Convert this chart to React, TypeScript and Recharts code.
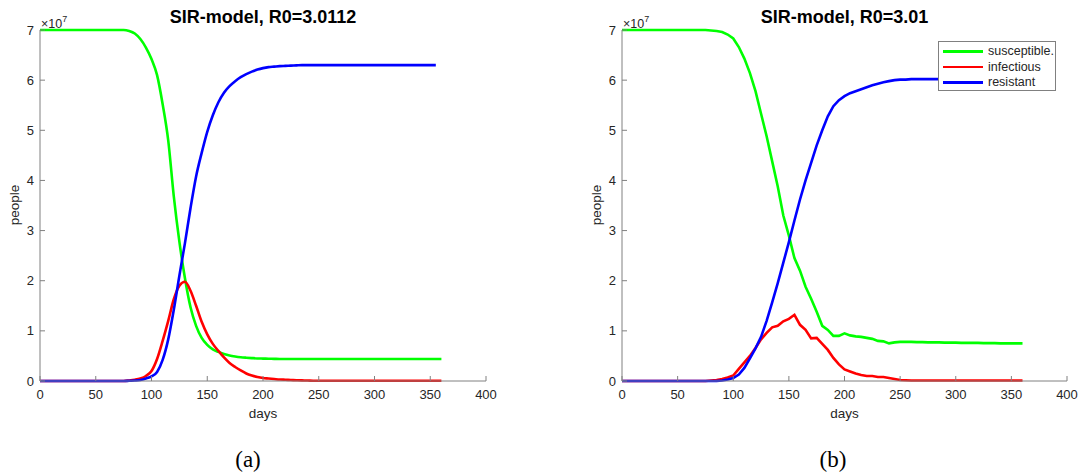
import React from "react";
import { LineChart, Line, XAxis, YAxis } from "recharts";

// values in units of 10^7 people, one point every 5 days
const days = [
  0, 5, 10, 15, 20, 25, 30, 35, 40, 45, 50, 55, 60, 65, 70, 75, 80, 85, 90, 95,
  100, 105, 110, 115, 120, 125, 130, 135, 140, 145, 150, 155, 160, 165, 170, 175,
  180, 185, 190, 195, 200, 205, 210, 215, 220, 225, 230, 235, 240, 245, 250, 255,
  260, 265, 270, 275, 280, 285, 290, 295, 300, 305, 310, 315, 320, 325, 330, 335,
  340, 345, 350, 355, 360,
];

const susA = [
  7, 7, 7, 7, 7, 7, 7, 7, 7, 7, 7, 7, 7, 7, 7, 7,
  6.98, 6.93, 6.82, 6.65, 6.42, 6.1, 5.52, 4.8, 3.68, 2.78, 2.05, 1.47, 1.1, 0.86,
  0.72, 0.63, 0.58, 0.54, 0.51, 0.49, 0.475, 0.465, 0.457, 0.45, 0.447, 0.444, 0.442,
  0.44, 0.44, 0.44, 0.44, 0.44, 0.44, 0.44, 0.44, 0.44, 0.44, 0.44, 0.44, 0.44,
  0.44, 0.44, 0.44, 0.44, 0.44, 0.44, 0.44, 0.44, 0.44, 0.44, 0.44, 0.44, 0.44,
  0.44, 0.44, 0.44, 0.44,
];

const infA = [
  0, 0, 0, 0, 0, 0, 0, 0, 0, 0, 0, 0, 0, 0, 0, 0,
  0.01, 0.025, 0.05, 0.1, 0.2, 0.44, 0.8, 1.2, 1.63, 1.9, 1.98, 1.8, 1.5, 1.18,
  0.93, 0.74, 0.6, 0.47, 0.36, 0.28, 0.21, 0.15, 0.11, 0.08, 0.06, 0.05, 0.04, 0.03,
  0.025, 0.02, 0.015, 0.012, 0.01,
  0.005, 0.005, 0.005, 0.005, 0.005, 0.005, 0.005, 0.005, 0.005, 0.005, 0.005, 0.005,
  0.005, 0.005, 0.005, 0.005, 0.005, 0.005, 0.005, 0.005, 0.005, 0.005, 0.005, 0.005,
];

const resA = [
  0, 0, 0, 0, 0, 0, 0, 0, 0, 0, 0, 0, 0, 0, 0, 0,
  0.005, 0.01, 0.02, 0.05, 0.09, 0.18, 0.42, 0.83, 1.42, 2.1, 2.75, 3.45, 4.08, 4.55,
  4.97, 5.3, 5.56, 5.75, 5.88, 5.98, 6.06, 6.12, 6.17, 6.21, 6.24, 6.26, 6.27,
  6.28, 6.285, 6.29, 6.295,
  6.3, 6.3, 6.3, 6.3, 6.3, 6.3, 6.3, 6.3, 6.3, 6.3, 6.3, 6.3, 6.3, 6.3, 6.3, 6.3,
  6.3, 6.3, 6.3, 6.3, 6.3, 6.3, 6.3, 6.3, 6.3,
];

const susB = [
  7, 7, 7, 7, 7, 7, 7, 7, 7, 7, 7, 7, 7, 7, 7, 7,
  6.99, 6.98, 6.96, 6.91, 6.83, 6.66, 6.43, 6.14, 5.78, 5.33, 4.88, 4.38, 3.88, 3.3,
  2.9, 2.45, 2.2, 1.88, 1.64, 1.38, 1.1, 1.02, 0.9, 0.9, 0.95, 0.91, 0.89, 0.88,
  0.86, 0.84, 0.8, 0.79, 0.75, 0.77, 0.78,
  0.78, 0.78, 0.775, 0.775, 0.77, 0.77, 0.77, 0.765, 0.765, 0.765, 0.76, 0.76, 0.76,
  0.76, 0.755, 0.755, 0.755, 0.75, 0.75, 0.75, 0.75, 0.75,
];

const infB = [
  0, 0, 0, 0, 0, 0, 0, 0, 0, 0, 0, 0, 0, 0, 0, 0,
  0.01, 0.02, 0.04, 0.07, 0.11, 0.24, 0.37, 0.5, 0.66, 0.83, 0.96, 1.07, 1.1, 1.19,
  1.24, 1.32, 1.12, 1.02, 0.85, 0.86, 0.74, 0.62, 0.46, 0.33, 0.23, 0.19, 0.15, 0.12,
  0.1, 0.1, 0.08, 0.08, 0.06, 0.04, 0.02, 0.015,
  0.01, 0.01, 0.01, 0.01, 0.01, 0.01, 0.01, 0.01, 0.01, 0.01, 0.01, 0.01, 0.01, 0.01,
  0.01, 0.01, 0.01, 0.01, 0.01, 0.01, 0.01,
];

const resB = [
  0, 0, 0, 0, 0, 0, 0, 0, 0, 0, 0, 0, 0, 0, 0, 0, 0, 0,
  0.01, 0.03, 0.06, 0.13, 0.26, 0.45, 0.65, 0.88, 1.2, 1.57, 1.95, 2.36, 2.77, 3.2,
  3.62, 4.0, 4.35, 4.7, 5.0, 5.28, 5.48, 5.6, 5.68, 5.74, 5.78, 5.82, 5.86, 5.9,
  5.93, 5.96, 5.98, 6.0, 6.01, 6.01, 6.02,
  6.02, 6.02, 6.02, 6.02, 6.02, 6.025, 6.025, 6.025, 6.025, 6.025, 6.03, 6.03, 6.03,
  6.03, 6.03, 6.03, 6.03, 6.03, 6.03,
];

const xTicks = [0, 50, 100, 150, 200, 250, 300, 350, 400];
const yTicks = [0, 1, 2, 3, 4, 5, 6, 7];

const seriesNames = ["susceptible.", "infectious", "resistant"];
const seriesColors = ["#00ff00", "#ff0000", "#0000ff"];

const FONT = '"Liberation Sans", Arial, Helvetica, sans-serif';
const AXIS = "#808080";
const TEXT = "#262626";

const buildRows = (s: number[], i: number[], r: number[]) =>
  days.map((d, k) => ({ day: d, s: s[k], i: i[k], r: r[k] }));

const dataA = buildRows(susA, infA, resA);
const dataB = buildRows(susB, infB, resB);

type PanelProps = {
  left: number;
  width: number;
  rightMargin: number;
  title: string;
  caption: string;
  captionX: number;
  data: { day: number; s: number; i: number; r: number }[];
  curve: "monotone" | "linear";
  legend?: boolean;
};

const Panel = ({ left, width, rightMargin, title, caption, captionX, data, curve, legend }: PanelProps) => {
  const plotLeft = 40;
  const plotRight = width - rightMargin;
  const mid = (plotLeft + plotRight) / 2;
  const keys = ["s", "i", "r"];
  return (
    <div style={{ position: "absolute", left, top: 0, width, height: 474, fontFamily: FONT }}>
      <LineChart width={width} height={430} data={data} margin={{ top: 30, right: rightMargin, bottom: 0, left: 0 }}>
        <XAxis
          dataKey="day"
          type="number"
          domain={[0, 400]}
          ticks={xTicks}
          interval={0}
          height={49}
          tickSize={-5}
          tickMargin={14}
          stroke={AXIS}
          tick={{ fill: TEXT, fontSize: 13, fontFamily: FONT }}
        />
        <XAxis
          xAxisId="top"
          dataKey="day"
          orientation="top"
          type="number"
          domain={[0, 400]}
          ticks={xTicks}
          interval={0}
          height={0}
          tickSize={-5}
          stroke={AXIS}
          tickFormatter={() => ""}
        />
        <YAxis
          type="number"
          domain={[0, 7]}
          ticks={yTicks}
          interval={0}
          width={40}
          tickSize={-5}
          tickMargin={11}
          stroke={AXIS}
          tick={{ fill: TEXT, fontSize: 13, fontFamily: FONT }}
        />
        <YAxis
          yAxisId="right"
          orientation="right"
          type="number"
          domain={[0, 7]}
          ticks={yTicks}
          interval={0}
          width={0}
          tickSize={-5}
          stroke={AXIS}
          tickFormatter={() => ""}
        />
        {keys.map((k, n) => (
          <Line
            key={k}
            dataKey={k}
            type={curve}
            stroke={seriesColors[n]}
            strokeWidth={2.6}
            dot={false}
            isAnimationActive={false}
          />
        ))}
      </LineChart>

      <div style={{ position: "absolute", left: mid - 150, width: 300, top: 7, textAlign: "center", fontWeight: "bold", fontSize: 18, color: "#000", lineHeight: "20px" }}>
        {title}
      </div>
      <div style={{ position: "absolute", left: plotLeft + 1, top: 13, fontSize: 12.5, color: TEXT, lineHeight: "15px" }}>
        ×10<sup style={{ fontSize: 9, position: "relative", top: -1 }}>7</sup>
      </div>
      <div style={{ position: "absolute", left: mid - 50, width: 100, top: 406, textAlign: "center", fontSize: 13.5, color: TEXT, lineHeight: "15px" }}>
        days
      </div>
      <div style={{ position: "absolute", left: 15 - 40, top: 205 - 8, width: 80, textAlign: "center", fontSize: 13.5, color: TEXT, lineHeight: "16px", transform: "rotate(-90deg)" }}>
        people
      </div>
      <div style={{ position: "absolute", left: captionX - left - 40, width: 80, top: 447, textAlign: "center", fontFamily: '"Liberation Serif", "DejaVu Serif", serif', fontSize: 23, color: "#000", lineHeight: "25px" }}>
        {caption}
      </div>

      {legend && (
        <div style={{ position: "absolute", left: 938 - left, top: 41, width: 118, height: 50, boxSizing: "border-box", background: "#fff", border: `1px solid ${AXIS}` }}>
          {seriesNames.map((name, n) => (
            <div key={name} style={{ position: "absolute", left: 4, top: 2 + n * 15.5, height: 15, display: "flex", alignItems: "center" }}>
              <div style={{ width: 40, height: 2.6, background: seriesColors[n] }} />
              <span style={{ marginLeft: 5, fontSize: 12.5, color: TEXT, lineHeight: "15px" }}>{name}</span>
            </div>
          ))}
        </div>
      )}
    </div>
  );
};

export default function App() {
  return (
    <div style={{ position: "absolute", left: 0, top: 0, width: 1081, height: 474, background: "#fff", overflow: "hidden" }}>
      <Panel left={0} width={540} rightMargin={54} title="SIR-model, R0=3.0112" caption="(a)" captionX={248} data={dataA} curve="monotone" />
      <Panel left={582} width={499} rightMargin={14} title="SIR-model, R0=3.01" caption="(b)" captionX={833} data={dataB} curve="linear" legend />
    </div>
  );
}
